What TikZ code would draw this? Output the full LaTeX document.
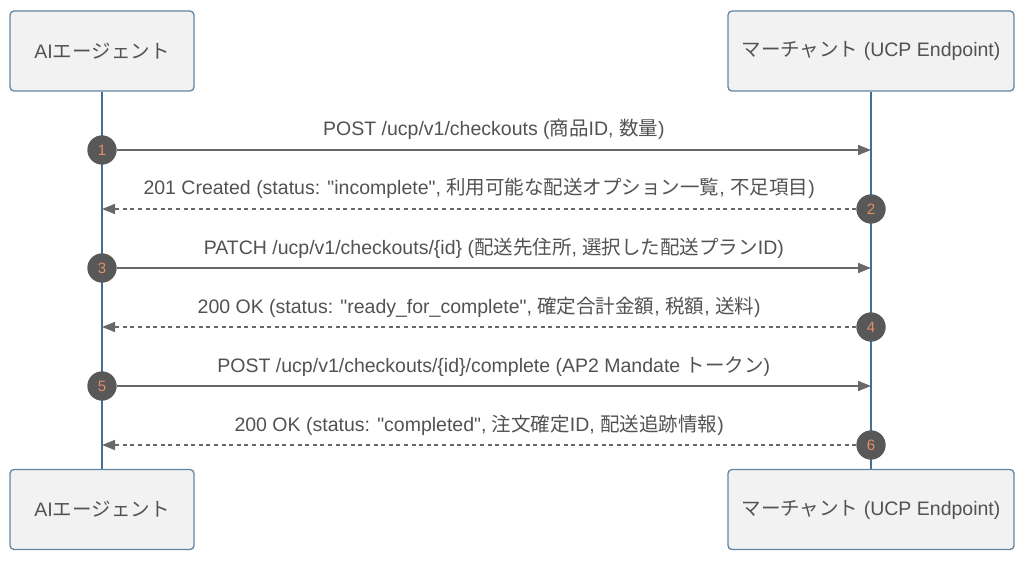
\documentclass[tikz,border=0pt]{standalone}
\usepackage{fontspec}
\setmainfont{Liberation Sans}
\newfontfamily\jp{Noto Sans CJK JP}
\usetikzlibrary{arrows.meta,positioning}
\definecolor{boxfill}{RGB}{242,242,242}
\definecolor{boxline}{RGB}{98,132,163}
\definecolor{lifeline}{RGB}{68,112,152}
\definecolor{msgline}{RGB}{104,104,104}
\definecolor{labeltext}{RGB}{82,82,82}
\definecolor{badgefill}{RGB}{88,88,88}
\definecolor{badgetext}{RGB}{228,142,102}
\newcommand{\msgfont}{\fontsize{19.5}{23}\selectfont}
\newcommand{\dq}{\textquotedbl}

\tikzset{
    actor/.style={draw=boxline, line width=1.3pt, fill=boxfill, rounded corners=4pt,
        minimum height=80pt, inner sep=0pt, text=labeltext, font=\msgfont},
    life/.style={draw=lifeline, line width=2.4pt},
    call/.style={draw=msgline, line width=1.8pt, -{Triangle[length=13pt,width=10pt]}},
    reply/.style={call, line width=1.5pt, dash pattern=on 4pt off 3.6pt},
    msglabel/.style={midway, anchor=base, yshift=14pt, text=labeltext, font=\msgfont, inner sep=0pt},
    badge/.style={circle, fill=badgefill, minimum size=29pt, inner sep=0pt,
        text=badgetext, font=\fontsize{15}{17}\selectfont}
}

\begin{document}
\begin{tikzpicture}[x=1pt, y=-1pt]
    \useasboundingbox (0,0) rectangle (1024,561);

    % participants
    \node[actor, minimum width=184pt] (agentTop) at (102,51) {AI{\jp エージェント}};
    \node[actor, minimum width=286pt] (merchTop) at (871,51) {{\jp マーチャント} (UCP Endpoint)};
    \node[actor, minimum width=184pt] (agentBot) at (102,509.5) {AI{\jp エージェント}};
    \node[actor, minimum width=286pt] (merchBot) at (871,509.5) {{\jp マーチャント} (UCP Endpoint)};

    % lifelines
    \draw[life] (agentTop) -- (agentBot);
    \draw[life] (merchTop) -- (merchBot);

    % message points on the lifelines
    \foreach \i/\y in {1/150, 2/209, 3/268, 4/327, 5/386, 6/445} {
        \coordinate (agent\i) at (102,\y);
        \coordinate (merch\i) at (871,\y);
    }

    % step badges
    \node[badge] (step1) at (agent1) {1};
    \node[badge] (step2) at (merch2) {2};
    \node[badge] (step3) at (agent3) {3};
    \node[badge] (step4) at (merch4) {4};
    \node[badge] (step5) at (agent5) {5};
    \node[badge] (step6) at (merch6) {6};

    % messages
    \draw[call] (step1) -- (merch1)
        node[msglabel] {POST /ucp/v1/checkouts ({\jp 商品}ID, {\jp 数量})};
    \draw[reply] (step2) -- (agent2)
        node[msglabel] {201 Created (status: \dq incomplete\dq, {\jp 利用可能な配送オプション一覧}, {\jp 不足項目})};
    \draw[call] (step3) -- (merch3)
        node[msglabel] {PATCH /ucp/v1/checkouts/\{id\} ({\jp 配送先住所}, {\jp 選択した配送プラン}ID)};
    \draw[reply] (step4) -- (agent4)
        node[msglabel] {200 OK (status: \dq ready\_for\_complete\dq, {\jp 確定合計金額}, {\jp 税額}, {\jp 送料})};
    \draw[call] (step5) -- (merch5)
        node[msglabel] {POST /ucp/v1/checkouts/\{id\}/complete (AP2 Mandate {\jp トークン})};
    \draw[reply] (step6) -- (agent6)
        node[msglabel] {200 OK (status: \dq completed\dq, {\jp 注文確定}ID, {\jp 配送追跡情報})};

    % keep badges on top
    \foreach \i in {1,...,6} {
        \node[badge] at (step\i) {\i};
    }
\end{tikzpicture}
\end{document}
